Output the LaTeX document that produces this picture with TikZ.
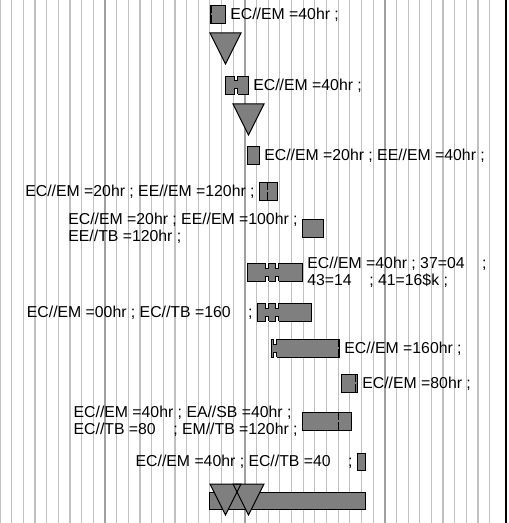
\documentclass[tikz,border=0pt]{standalone}
\usepackage{fontspec}
\setmainfont{Liberation Sans}
\usepackage{tikz}
\usetikzlibrary{positioning}
\definecolor{ganttgrid}{HTML}{C0C0C0}
\definecolor{ganttgridd}{HTML}{A0A0A0}
\definecolor{ganttbar}{HTML}{7F7F7F}

\begin{document}
\begin{tikzpicture}[
  x=0.5pt,y=-0.5pt,
  font=\fontsize{7.9}{8.4}\selectfont,
  bar/.style={draw=black,fill=ganttbar,line width=0.5pt,inner sep=0pt,anchor=north west,minimum height=9pt},
  lbl/.style={inner sep=0pt,align=left},
  tri/.style={draw=black,line width=0.5pt,line join=miter},
  node distance=2pt
]
\useasboundingbox (0,0) rectangle (508,523);
% grid
\foreach \k in {0,...,42}
  \draw[ganttgrid,line width=0.6pt] ({\k*11.66},0) -- ({\k*11.66},523);
\foreach \k in {9,21,33}
  \draw[ganttgridd,line width=0.8pt] ({\k*11.66},0) -- ({\k*11.66},523);
\draw[black,line width=1.2pt] (506,0) -- (506,523);

% bars
\node[bar,minimum width=7.5pt] (b1) at (210,5) {};
\node[bar,minimum width=11.5pt] (b2) at (225,76) {};
\node[bar,minimum width=6pt] (b3) at (247,146) {};
\node[bar,minimum width=9pt] (b4) at (259,182) {};
\node[bar,minimum width=10.5pt] (b5) at (302,219) {};
\node[bar,minimum width=27.5pt] (b6) at (247,263) {};
\node[bar,minimum width=27pt] (b7) at (257,303) {};
\node[bar,minimum width=34pt] (b8) at (271,339) {};
\node[bar,minimum width=8pt] (b9) at (341,374) {};
\node[bar,minimum width=24.5pt,minimum height=8.8pt] (b10) at (302,412) {};
\node[bar,minimum width=4pt,minimum height=8.5pt] (b11) at (357,453) {};
\node[bar,minimum width=78pt,minimum height=8.3pt] (b12) at (209,492) {};

% notches and split marks
\foreach \x/\t in {236/76,267/263,277/263,267/303,277/303,275/339}{
  \fill[white] (\x-1.5,\t-1) rectangle (\x+1.5,\t+5);
  \fill[white] (\x-1.5,\t+19) rectangle (\x+1.5,\t+13);
  \draw[line width=0.5pt] (\x-1.5,\t) -- (\x-1.5,\t+5) -- (\x+1.5,\t+5) -- (\x+1.5,\t);
  \draw[line width=0.5pt] (\x-1.5,\t+18) -- (\x-1.5,\t+13) -- (\x+1.5,\t+13) -- (\x+1.5,\t+18);
}
\foreach \x/\t in {211/5,267/182,338/339,355/374,338/412}
  \draw[line width=0.5pt,dash pattern=on 4pt off 1pt] (\x,\t) -- (\x,\t+18);

% milestones
\foreach \x/\y in {210/33,233/104,210/484,233/484}
  \fill[ganttbar] (\x,\y) -- (\x+31,\y) -- (\x+15.5,\y+31) -- cycle;
\foreach \x/\y in {210/33,233/104,210/484,233/484}
  \draw[tri] (\x,\y) -- (\x+31,\y) -- (\x+15.5,\y+31) -- cycle;

% labels
\node[lbl,right=of b1] (l1) {EC//EM =40hr ;};
\node[lbl,right=of b2] (l2) {EC//EM =40hr ;};
\node[lbl,right=of b3] (l3) {EC//EM =20hr ; EE//EM =40hr ;};
\node[lbl,left=of b4] (l4) {EC//EM =20hr ; EE//EM =120hr ;};
\node[lbl,left=of b5] (l5) {EC//EM =20hr ; EE//EM =100hr ;\\EE//TB =120hr ;};
\node[lbl,right=of b6] (l6) {EC//EM =40hr ; 37=04~~~ ;\\43=14~~~ ; 41=16\$k ;};
\node[lbl,left=of b7] (l7) {EC//EM =00hr ; EC//TB =160~~~ ;};
\node[lbl,right=of b8] (l8) {EC//EM =160hr ;};
\node[lbl,right=of b9] (l9) {EC//EM =80hr ;};
\node[lbl,left=of b10] (l10) {EC//EM =40hr ; EA//SB =40hr ;\\EC//TB =80~~~ ; EM//TB =120hr ;};
\node[lbl,left=of b11] (l11) {EC//EM =40hr ; EC//TB =40~~~ ;};
\end{tikzpicture}
\end{document}
